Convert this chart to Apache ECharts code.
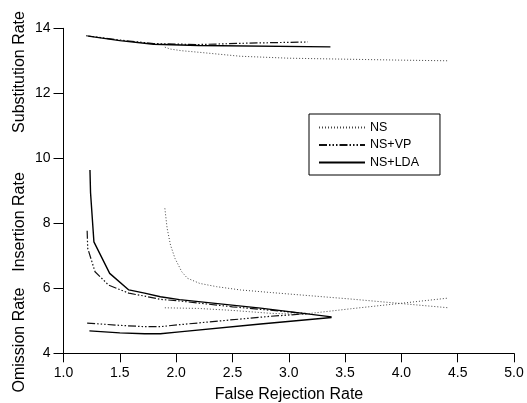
<!DOCTYPE html>
<html>
<head>
<meta charset="utf-8">
<script src="https://cdn.jsdelivr.net/npm/echarts@6/dist/echarts.min.js"></script>
<style>
html,body{margin:0;padding:0;background:#fff;}
#chart{width:527px;height:403px;}
</style>
</head>
<body>
<div id="chart"></div>
<script>
// ---- data (x = False Rejection Rate, y = rate) ----
var systems = ['NS', 'NS+VP', 'NS+LDA'];
var xTickLabels = ['1.0','1.5','2.0','2.5','3.0','3.5','4.0','4.5','5.0'];
var yTickLabels = ['4','6','8','10','12','14'];

var nsSubstitution = [[1.9,13.42],[1.95,13.36],[2.05,13.31],[2.21,13.26],[2.57,13.14],[3.0,13.08],[3.5,13.05],[4.0,13.02],[4.42,13.0]];
var nsInsertion = [[1.9,8.46],[1.92,7.85],[1.95,7.33],[1.99,6.92],[2.05,6.51],[2.1,6.31],[2.21,6.15],[2.36,6.05],[2.57,5.95],[2.84,5.87],[3.55,5.67],[4.42,5.4]];
var nsOmission = [[1.9,5.4],[2.2,5.38],[2.5,5.32],[2.84,5.23],[3.12,5.2],[3.55,5.37],[4.0,5.54],[4.42,5.7]];

var vpSubstitution = [[1.2,13.77],[1.5,13.64],[1.8,13.53],[2.2,13.5],[2.6,13.54],[3.17,13.58]];
var vpInsertion = [[1.21,7.77],[1.215,7.23],[1.28,6.51],[1.4,6.1],[1.58,5.85],[1.72,5.76],[1.86,5.66],[2.03,5.61],[2.5,5.43],[3.17,5.22]];
var vpOmission = [[1.21,4.93],[1.5,4.86],[1.72,4.82],[1.86,4.82],[2.03,4.88],[2.4,5.0],[2.84,5.14],[3.17,5.22]];

var ldaSubstitution = [[1.22,13.76],[1.5,13.62],[1.8,13.51],[2.2,13.47],[3.37,13.43]];
var ldaInsertion = [[1.235,9.64],[1.24,8.95],[1.27,7.43],[1.41,6.46],[1.58,5.95],[1.72,5.85],[1.86,5.74],[2.03,5.65],[2.75,5.39],[3.38,5.12]];
var ldaOmission = [[1.23,4.69],[1.5,4.63],[1.72,4.6],[1.86,4.6],[2.03,4.66],[2.75,4.9],[3.38,5.1]];

var FONT = "'Liberation Sans', Arial, Helvetica, sans-serif";

var styles = {
  'NS': {color:'#444', width:1, type:[1,2]},
  'NS+VP': {color:'#111', width:1.2, type:[8,2,1.5,2,1.5,2,1.5,2]},
  'NS+LDA': {color:'#000', width:1.4, type:'solid'}
};

function mk(name, data) {
  return {
    name: name, type: 'line', data: data, symbol: 'none', showSymbol: false,
    silent: true, animation: false,
    lineStyle: {color: styles[name].color, width: styles[name].width, type: styles[name].type},
    itemStyle: {color: styles[name].color}
  };
}

var chart = echarts.init(document.getElementById('chart'), null, {renderer:'canvas'});
chart.setOption({
  backgroundColor: '#fff',
  animation: false,
  textStyle: {fontFamily: FONT},
  grid: {left: 63.5, right: 13, top: 28.3, bottom: 49.7, containLabel: false},
  xAxis: {
    type: 'value', min: 1, max: 5, interval: 0.5,
    axisLine: {show: true, onZero: false, lineStyle: {color: '#000', width: 1}},
    axisTick: {show: true, length: 9, lineStyle: {color: '#000'}},
    axisLabel: {color: '#000', fontSize: 14, fontFamily: FONT, margin: 13,
      formatter: function (v) { return xTickLabels[Math.round((v - 1) / 0.5)]; }},
    splitLine: {show: false}
  },
  yAxis: {
    type: 'value', min: 4, max: 14, interval: 2,
    axisLine: {show: true, onZero: false, lineStyle: {color: '#000', width: 1}},
    axisTick: {show: true, length: 10, lineStyle: {color: '#000'}},
    axisLabel: {color: '#000', fontSize: 14, fontFamily: FONT, margin: 13,
      formatter: function (v) { return yTickLabels[Math.round((v - 4) / 2)]; }},
    splitLine: {show: false}
  },
  legend: {
    data: systems,
    orient: 'vertical',
    left: 309, top: 114,
    padding: [7, 21, 6, 9],
    itemWidth: 46, itemHeight: 12, itemGap: 4.5,
    borderColor: '#000', borderWidth: 1,
    itemStyle: {opacity: 0, borderWidth: 0},
    textStyle: {color: '#000', fontSize: 12.5, fontFamily: FONT},
    selectedMode: false
  },
  graphic: [
    {type:'text', x:19.5, y:72, rotation:Math.PI/2,
      style:{text:'Substitution Rate', font:'16px ' + FONT, textAlign:'center', textVerticalAlign:'middle', fill:'#000'}},
    {type:'text', x:19.5, y:222, rotation:Math.PI/2,
      style:{text:'Insertion Rate', font:'16px ' + FONT, textAlign:'center', textVerticalAlign:'middle', fill:'#000'}},
    {type:'text', x:19.5, y:340, rotation:Math.PI/2,
      style:{text:'Omission Rate', font:'16px ' + FONT, textAlign:'center', textVerticalAlign:'middle', fill:'#000'}},
    {type:'text', x:289, y:395,
      style:{text:'False Rejection Rate', font:'16px ' + FONT, textAlign:'center', textVerticalAlign:'middle', fill:'#000'}}
  ],
  series: [
    mk('NS', nsSubstitution), mk('NS', nsInsertion), mk('NS', nsOmission),
    mk('NS+VP', vpSubstitution), mk('NS+VP', vpInsertion), mk('NS+VP', vpOmission),
    mk('NS+LDA', ldaSubstitution), mk('NS+LDA', ldaInsertion), mk('NS+LDA', ldaOmission)
  ]
});
</script>
</body>
</html>
